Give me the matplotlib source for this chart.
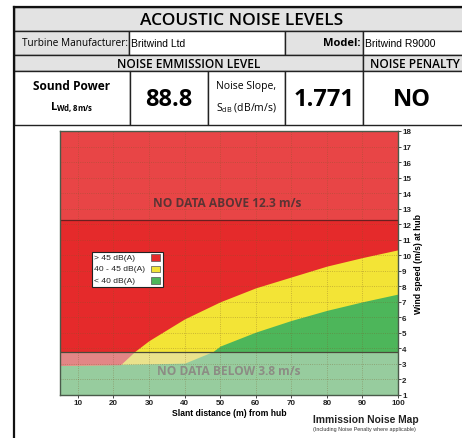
import matplotlib
matplotlib.use("Agg")
import matplotlib.pyplot as plt
from matplotlib.patches import Rectangle

# table values
TITLE = "ACOUSTIC NOISE LEVELS"
MANUFACTURER = "Britwind Ltd"
MODEL = "Britwind R9000"
SOUND_POWER = "88.8"
NOISE_SLOPE = "1.771"
NOISE_PENALTY = "NO"

# noise map: wind speed (m/s) where immission level crosses 45 / 40 dB(A)
dist_45 = [22, 26, 30, 40, 50, 60, 70, 80, 90, 100]
wind_45 = [2.95, 3.8, 4.5, 5.9, 7.0, 7.9, 8.6, 9.3, 9.85, 10.35]
dist_40 = [40, 48, 50, 60, 70, 80, 90, 100]
wind_40 = [3.05, 3.8, 4.15, 5.05, 5.8, 6.45, 7.0, 7.5]
data_floor = 2.9          # lowest wind speed in map
no_data_above = 12.3
no_data_below = 3.8
x_ticks = [10, 20, 30, 40, 50, 60, 70, 80, 90, 100]
y_ticks = list(range(1, 19))
legend_labels = ["> 45 dB(A)", "40 - 45 dB(A)", "< 40 dB(A)"]

RED = "#e52a2b"
YELLOW = "#f3e436"
GREEN = "#4db65a"
HEAD = "#e3e3e3"
TFONT = ["Open Sans", "DejaVu Sans"]
VFONT = ["Liberation Sans", "DejaVu Sans"]
NARROW = ["Liberation Sans Narrow", "Liberation Sans", "DejaVu Sans"]

fig = plt.figure(figsize=(4.62, 4.39), dpi=100)

# ---- header table, drawn in pixel coords ----
tax = fig.add_axes([0, 0, 1, 1])
tax.set_xlim(0, 462)
tax.set_ylim(439, 0)
tax.axis("off")


def cell(x0, y0, x1, y1, fc):
    tax.add_patch(Rectangle((x0, y0), x1 - x0, y1 - y0, facecolor=fc,
                            edgecolor="#222222", lw=1.0))


cell(14, 8, 475, 32, HEAD)
cell(14, 32, 129, 56, HEAD)
cell(129, 32, 285, 56, "white")
cell(285, 32, 363, 56, HEAD)
cell(363, 32, 475, 56, "white")
cell(14, 56, 363, 72, HEAD)
cell(363, 56, 475, 72, HEAD)
for a, b in [(14, 130), (130, 208), (208, 285), (285, 363), (363, 475)]:
    cell(a, 72, b, 126, "white")
tax.plot([14, 14], [8, 445], color="#111111", lw=1.6)
tax.plot([14, 475], [8, 8], color="#111111", lw=1.6)

tax.text(242, 21, TITLE, ha="center", va="center", fontsize=12.5,
         family=TFONT, weight="semibold")
tax.text(128, 44, "Turbine Manufacturer:", ha="right", va="center",
         fontsize=7.2, family=TFONT)
tax.text(131, 44, MANUFACTURER, ha="left", va="center", fontsize=7.5,
         family=VFONT)
tax.text(361, 44, "Model:", ha="right", va="center", fontsize=8,
         family=TFONT, weight="bold")
tax.text(365, 44, MODEL, ha="left", va="center", fontsize=7.5,
         family=VFONT)
tax.text(189, 64, "NOISE EMMISSION LEVEL", ha="center", va="center",
         fontsize=8.6, family=TFONT, weight="semibold")
tax.text(370, 64, "NOISE PENALTY", ha="left", va="center",
         fontsize=8.6, family=TFONT, weight="semibold")
tax.text(72, 86, "Sound Power", ha="center", va="center", fontsize=8.6,
         family=TFONT, weight="bold")
tax.text(72, 108, r"L$_{\mathregular{Wd,8m/s}}$", ha="center",
         va="center", fontsize=8, family=TFONT, weight="bold")
tax.text(169, 100, SOUND_POWER, ha="center", va="center", fontsize=17,
         family=TFONT, weight="bold")
tax.text(246, 86, "Noise Slope,", ha="center", va="center", fontsize=7.5,
         family=TFONT)
tax.text(246, 108, r"S$_{\mathregular{dB}}$ (dB/m/s)", ha="center",
         va="center", fontsize=7.5, family=TFONT)
tax.text(324, 100, NOISE_SLOPE, ha="center", va="center", fontsize=17,
         family=TFONT, weight="bold")
tax.text(412, 100, NOISE_PENALTY, ha="center", va="center", fontsize=17,
         family=TFONT, weight="bold")

# ---- noise map ----
ax = fig.add_axes([60 / 462, 1 - 396 / 439, 338 / 462, 264 / 439])
ax.set_facecolor(GREEN)
ax.fill_between([5] + dist_40, [data_floor] + wind_40, 18,
                color=YELLOW, lw=0)
ax.fill_between([5] + dist_45, [data_floor] + wind_45, 18,
                color=RED, lw=0)

ax.axhspan(no_data_above, 18, color="white", alpha=0.13, lw=0)
ax.axhspan(1, no_data_below, color="#e2e2e2", alpha=0.5, lw=0)
ax.axhline(no_data_above, color="#6b1f1f", lw=0.9)
ax.axhline(no_data_below, color="#4a4a3a", lw=0.9)

ax.text(52, 13.4, f"NO DATA ABOVE {no_data_above} m/s", ha="center",
        va="center", fontsize=8.6, weight="bold", color="#5a3434",
        family=TFONT)
ax.text(52.5, 2.6, f"NO DATA BELOW {no_data_below} m/s", ha="center",
        va="center", fontsize=8.6, weight="bold", color="#8c8c84",
        family=TFONT)

ax.set_xlim(5, 100)
ax.set_ylim(1, 18)
ax.set_xticks(x_ticks)
ax.set_yticks(y_ticks)
ax.grid(True, color="#7a5a2a", alpha=0.45, lw=0.6, ls=":")
ax.yaxis.tick_right()
ax.yaxis.set_label_position("right")
ax.tick_params(length=2, width=0.6, pad=1, labelsize=5.8, colors="#222222")
for lab in ax.get_xticklabels() + ax.get_yticklabels():
    lab.set_family(NARROW)
    lab.set_weight("bold")
ax.set_xlabel("Slant distance (m) from hub", fontsize=6.2, weight="bold",
              family=NARROW, labelpad=1)
ax.set_ylabel("Wind speed (m/s) at hub", fontsize=6.2, weight="bold",
              family=NARROW, labelpad=2)
for s in ax.spines.values():
    s.set_color("#4a5a4a")
    s.set_linewidth(1.0)

# legend box: text left, swatches right (pixel coords)
tr = tax.transData
ax.add_patch(Rectangle((92, 253), 71, 35, transform=tr, facecolor="white",
                       edgecolor="#222222", lw=0.8, zorder=6,
                       clip_on=False))
for i, (lab, col) in enumerate(zip(legend_labels, [RED, YELLOW, GREEN])):
    yy = 258.5 + i * 11.5
    ax.text(93.5, yy, lab, transform=tr, ha="left", va="center",
            fontsize=6.1, family=VFONT, color="#222222", zorder=7)
    ax.add_patch(Rectangle((151, yy - 3.3), 9, 6.6, transform=tr,
                           facecolor=col, edgecolor="#555555", lw=0.5,
                           zorder=7, clip_on=False))

tax.text(313, 423, "Immission Noise Map", ha="left", va="baseline",
         fontsize=7.4, weight="bold", family=VFONT, color="#222222")
tax.text(313, 429.5, "(Including Noise Penalty where applicable)",
         ha="left", va="center", fontsize=3.9, family=VFONT,
         color="#333333")

fig.savefig("out.png", dpi=100)
